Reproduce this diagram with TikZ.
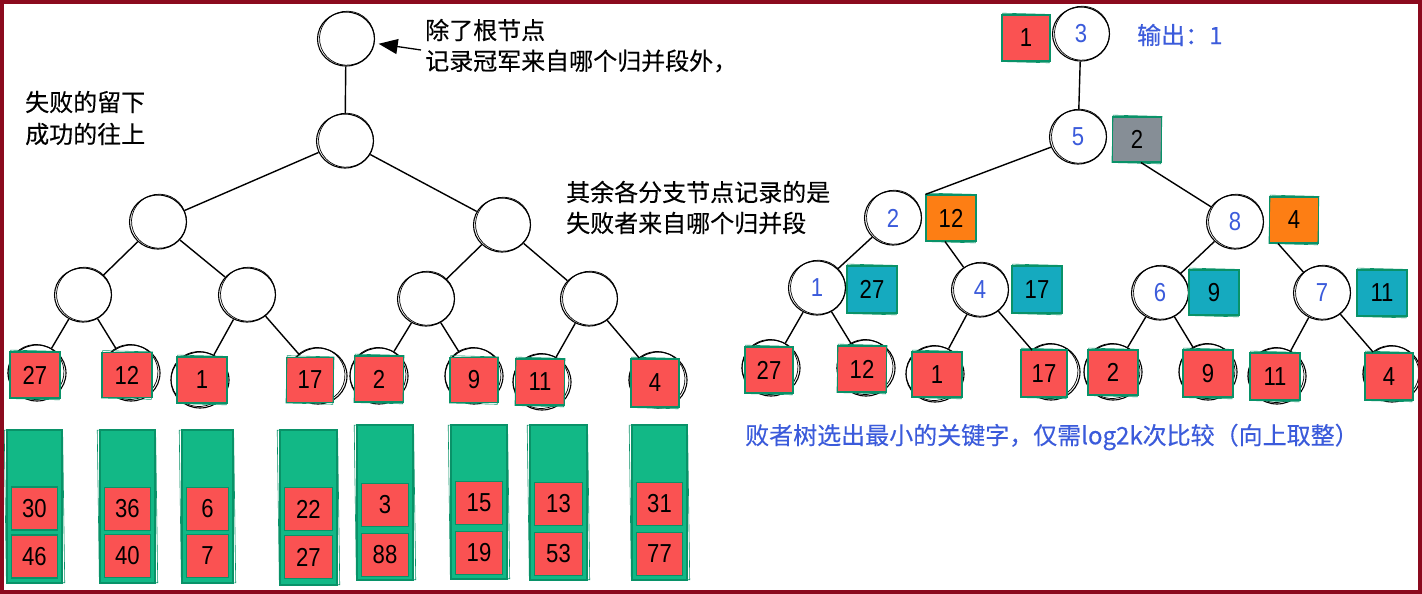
\documentclass[tikz,border=0pt]{standalone}
\usepackage{fontspec}
\usetikzlibrary{shapes.geometric,arrows.meta}
\newfontfamily\cjk[FakeBold=0.3]{Noto Sans CJK SC}
\newfontfamily\numf[FakeStretch=0.85]{Liberation Sans}
\definecolor{frame}{HTML}{8B0A1E}
\definecolor{kred}{HTML}{FA5252}
\definecolor{kgreen}{HTML}{12B886}
\definecolor{kedge}{HTML}{099268}
\definecolor{korange}{HTML}{FD7E14}
\definecolor{kgray}{HTML}{868E96}
\definecolor{kcyan}{HTML}{15AABF}
\definecolor{kblue}{HTML}{3B5BDB}
\tikzset{
  tn/.style={ellipse, draw, line width=1.1pt, fill=white, minimum width=57pt, minimum height=54pt, inner sep=0pt, text=kblue, font=\numf\fontsize{26}{26}\selectfont},
  lcirc/.style={ellipse, draw, line width=1.1pt, fill=white, minimum width=58pt, minimum height=56pt, inner sep=0pt},
  sk/.style={line width=0.7pt},
  sq/.style={draw=kedge, line width=1.1pt, inner sep=0pt, text=black, font=\numf\fontsize{26}{26}\selectfont},
  colb/.style={draw=kedge, line width=1.2pt, fill=kgreen, inner sep=0pt},
  conn/.style={line width=1.4pt},
  lbl/.style={anchor=west, inner sep=0pt, font=\cjk\fontsize{24}{24}\selectfont},
}
% tree node: name, x, y, label
\newcommand\tcirc[4]{%
  \node[tn] (#1) at (#2,#3) {#4};
  \draw[sk] ([shift={(1pt,0.8pt)}]#1.center) ellipse [x radius=27.5pt, y radius=27pt, rotate=9];}
% square: name, x, y, w, h, fill, label
\newcommand\sqn[7]{%
  \node[sq, fill=#6, minimum width=#4pt, minimum height=#5pt] (#1) at (#2,#3) {#7};
  \draw[kedge, line width=0.6pt, rotate around={-1.5:(#1.center)}] (#1.south west) rectangle (#1.north east);}
% leaf: name, cx, cy, sx, sy, w, h, label
\newcommand\leafn[8]{%
  \node[lcirc] (#1) at (#2,#3) {};
  \draw[sk] ([shift={(-1pt,1pt)}]#1.center) ellipse [x radius=28pt, y radius=27.5pt, rotate=-8];
  \sqn{#1s}{#4}{#5}{#6}{#7}{kred}{#8}}
% column: name, cx, cy, w, h, l1, y1, l2, y2
\newcommand\coln[9]{%
  \node[colb, minimum width=#4pt, minimum height=#5pt] (#1) at (#2,#3) {};
  \draw[kedge, line width=0.6pt, rotate around={0.8:(#1.center)}] (#1.south west) rectangle (#1.north east);
  \node[sq, fill=kred, minimum width=#4pt-9pt, minimum height=43pt] (#1a) at (#2,#7) {#6};
  \node[sq, fill=kred, minimum width=#4pt-9pt, minimum height=43pt] (#1b) at (#2,#9) {#8};}

\begin{document}
\begin{tikzpicture}[x=1pt,y=-1pt]
\useasboundingbox (0,0) rectangle (1422,594);
\fill[white] (0,0) rectangle (1422,594);

% ---------------- left tree ----------------
\tcirc{L0}{346}{39}{}
\tcirc{L1}{345}{141}{}
\tcirc{L2a}{158}{222}{}
\tcirc{L2b}{502}{225}{}
\tcirc{L3a}{83}{295}{}
\tcirc{L3b}{247}{295}{}
\tcirc{L3c}{426}{299}{}
\tcirc{L3d}{589}{299}{}

\leafn{la}{37}{373}{35}{375}{50}{46}{27}
\leafn{lb}{131}{373}{127}{375}{50}{45}{12}
\leafn{lc}{200}{380}{202}{380}{50}{46}{1}
\leafn{ld}{318}{376}{310}{380}{47}{45}{17}
\leafn{le}{379}{376}{379}{379}{49}{46}{2}
\leafn{lf}{474}{376}{474}{380}{48}{45}{9}
\leafn{lg}{542}{382}{540}{382}{49}{46}{11}
\leafn{lh}{658}{380}{655}{383}{48}{48}{4}

\draw[conn] (L0) -- (L1);
\draw[conn] (L1) -- (L2a);
\draw[conn] (L1) -- (L2b);
\draw[conn] (L2a) -- (L3a);
\draw[conn] (L2a) -- (L3b);
\draw[conn] (L2b) -- (L3c);
\draw[conn] (L2b) -- (L3d);
\draw[conn] (L3a) -- (la);
\draw[conn] (L3a) -- (lb);
\draw[conn] (L3b) -- (lc);
\draw[conn] (L3b) -- (ld);
\draw[conn] (L3c) -- (le);
\draw[conn] (L3c) -- (lf);
\draw[conn] (L3d) -- (lg);
\draw[conn] (L3d) -- (lh);

% buffers
\coln{c1}{34.5}{506.5}{55}{153}{30}{508.5}{46}{556.5}
\coln{c2}{127.5}{506.5}{55}{153}{36}{509}{40}{556}
\coln{c3}{207.5}{506.5}{51}{153}{6}{509}{7}{556}
\coln{c4}{308.5}{507.5}{57}{155}{22}{509}{27}{557}
\coln{c5}{385}{502.5}{56}{155}{3}{505}{88}{555}
\coln{c6}{479}{502}{56}{154}{15}{503}{19}{553}
\coln{c7}{558.5}{502.5}{57}{155}{13}{504}{53}{554}
\coln{c8}{659.5}{502.5}{55}{155}{31}{504}{77}{554}

% texts left
\node[lbl] (t1) at (425,30) {除了根节点};
\node[lbl] (t2) at (425,61) {记录冠军来自哪个归并段外，};
\coordinate (arrtail) at (421,50);
\draw[line width=1.3pt, -{Triangle[length=19pt,width=15pt]}, shorten >=4pt] (arrtail) -- (L0);
\node[lbl] (t3) at (25,102) {失败的留下};
\node[lbl] (t4) at (25,134) {成功的往上};
\node[lbl] (t5) at (566,192) {其余各分支节点记录的是};
\node[lbl] (t6) at (566,223) {失败者来自哪个归并段};

% ---------------- right tree ----------------
\tcirc{R0}{1081}{34}{3}
\sqn{R0s}{1026}{38}{48}{46}{kred}{1}
\tcirc{R1}{1078}{137}{5}
\sqn{R1s}{1137}{139.5}{49}{45}{kgray}{2}
\tcirc{R2a}{893}{218}{2}
\sqn{R2as}{951}{218}{50}{46}{korange}{12}
\tcirc{R2b}{1235}{222}{8}
\sqn{R2bs}{1294}{220}{49}{46}{korange}{4}
\tcirc{R3a}{817}{288}{1}
\sqn{R3as}{872}{289.5}{50}{47}{kcyan}{27}
\tcirc{R3b}{980}{290}{4}
\sqn{R3bs}{1037}{289.5}{50}{47}{kcyan}{17}
\tcirc{R3c}{1160}{293}{6}
\sqn{R3cs}{1214}{292.5}{50}{45}{kcyan}{9}
\tcirc{R3d}{1322}{293}{7}
\sqn{R3ds}{1382}{293}{50}{46}{kcyan}{11}

\leafn{ra}{771}{368}{769}{370}{48}{46}{27}
\leafn{rb}{866}{368}{862}{369}{49}{46}{12}
\leafn{rc}{935}{374}{937}{374.5}{50}{45}{1}
\leafn{rd}{1051}{372}{1044}{373.5}{46}{47}{17}
\leafn{re}{1113}{372}{1113}{372.5}{50}{45}{2}
\leafn{rf}{1208}{372}{1208}{373.5}{50}{47}{9}
\leafn{rg}{1277}{376}{1275}{376.5}{50}{47}{11}
\leafn{rh}{1392}{374}{1389}{376.5}{48}{47}{4}

\draw[conn] (R0) -- (R1);
\draw[conn] (R1) -- (R2as.north west);
\draw[conn] ([xshift=4pt]R1s.south) -- (R2b);
\draw[conn] (R2a) -- (R3a);
\draw[conn] ([xshift=-6pt]R2as.south) -- (R3b);
\draw[conn] (R2b) -- (R3c);
\draw[conn] ([xshift=-16pt]R2bs.south) -- (R3d);
\draw[conn] (R3a) -- (ra);
\draw[conn] (R3a) -- (rb);
\draw[conn] (R3b) -- (rc);
\draw[conn] (R3b) -- (rd);
\draw[conn] (R3c) -- (re);
\draw[conn] (R3c) -- (rf);
\draw[conn] (R3d) -- (rg);
\draw[conn] (R3d) -- (rh);

\node[lbl, text=kblue] (out) at (1137,35) {输出：1};
\node[lbl, text=kblue] (note) at (745,437) {败者树选出最小的关键字，仅需log2k次比较（向上取整）};

% frame
\draw[frame, line width=4pt] (2,2) rectangle (1420,592);
\end{tikzpicture}
\end{document}
